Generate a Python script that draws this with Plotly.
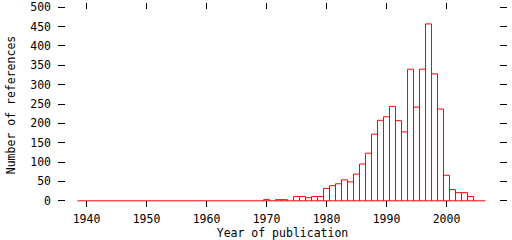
import plotly.graph_objects as go

years = list(range(1939, 2007))
counts_map = {
    1970: 3, 1972: 3, 1973: 3,
    1975: 11, 1976: 11, 1977: 8, 1978: 11, 1979: 11,
    1980: 32, 1981: 39, 1982: 44, 1983: 54, 1984: 49,
    1985: 69, 1986: 95, 1987: 123, 1988: 172, 1989: 208,
    1990: 217, 1991: 244, 1992: 207, 1993: 178, 1994: 340,
    1995: 242, 1996: 340, 1997: 457, 1998: 328, 1999: 237,
    2000: 66, 2001: 29, 2002: 21, 2003: 21, 2004: 11,
}
counts = [counts_map.get(y, 0) for y in years]
x_ticks = [1940, 1950, 1960, 1970, 1980, 1990, 2000]
y_ticks = list(range(0, 501, 50))

FONT = "DejaVu Sans Mono"
FS = 11.5

# box outlines (gnuplot "with boxes" style), built from the data
bx, by = [], []
for yr, c in zip(years, counts):
    if c > 0:
        bx += [yr - 0.5, yr - 0.5, yr + 0.5, yr + 0.5, None]
        by += [0, c, c, 0, None]
bx += [years[0] - 0.5, years[-1] + 0.5]
by += [0, 0]

fig = go.Figure()
fig.add_trace(go.Scatter(
    x=bx, y=by, mode="lines", connectgaps=False,
    line=dict(color="#ff0000", width=1), showlegend=False,
))

fig.update_layout(
    width=512, height=240,
    margin=dict(l=58, r=5, t=0, b=32),
    paper_bgcolor="white", plot_bgcolor="white",
    font=dict(family=FONT, size=FS, color="black"),
)
fig.update_xaxes(
    range=[1935.25, 2010.08], tickvals=x_ticks,
    ticks="inside", ticklen=6, tickwidth=1, tickcolor="black",
    mirror="ticks", showline=False, showgrid=False, zeroline=False,
    ticklabelstandoff=3, tickfont=dict(family=FONT, size=FS),
    title=dict(text="Year of publication", standoff=6,
               font=dict(family=FONT, size=FS)),
)
fig.update_yaxes(
    range=[-16, 511], tickvals=y_ticks,
    ticks="inside", ticklen=7, tickwidth=1, tickcolor="black",
    mirror="ticks", showline=False, showgrid=False, zeroline=False,
    ticklabelstandoff=6, ticklabeloverflow="allow",
    tickfont=dict(family=FONT, size=FS),
    title=dict(text="Number of references", standoff=12,
               font=dict(family=FONT, size=FS)),
)

fig.write_html("out.html")
